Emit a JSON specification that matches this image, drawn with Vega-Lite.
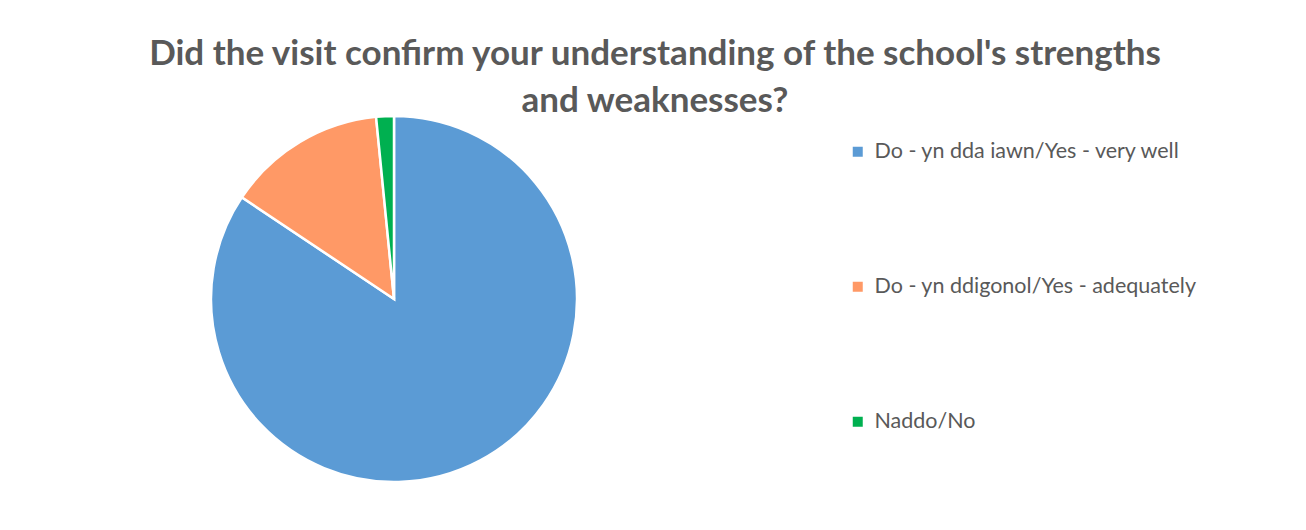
{
  "$schema": "https://vega.github.io/schema/vega-lite/v6.json",
  "autosize": "none",
  "width": 366,
  "height": 366,
  "padding": {"left": 211, "top": 116, "right": 729, "bottom": 48},
  "background": "white",
  "config": {"view": {"stroke": null}},
  "title": {
    "text": ["Did the visit confirm your understanding of the school's strengths", "and weaknesses?"],
    "font": "Lato",
    "fontSize": 35,
    "fontWeight": "bold",
    "color": "#595959",
    "anchor": "middle",
    "frame": "group",
    "dx": 261,
    "offset": -8,
    "lineHeight": 47
  },
  "data": {
    "values": [
      {"response": "Do - yn dda iawn/Yes - very well", "count": 54, "idx": 1},
      {"response": "Do - yn ddigonol/Yes - adequately", "count": 9, "idx": 2},
      {"response": "Naddo/No", "count": 1, "idx": 3}
    ]
  },
  "mark": {"type": "arc", "stroke": "white", "strokeWidth": 2.5},
  "encoding": {
    "theta": {"field": "count", "type": "quantitative", "stack": true},
    "order": {"field": "idx", "type": "quantitative"},
    "color": {
      "field": "response",
      "type": "nominal",
      "sort": null,
      "scale": {
        "domain": ["Do - yn dda iawn/Yes - very well", "Do - yn ddigonol/Yes - adequately", "Naddo/No"],
        "range": ["#5B9BD5", "#FF9966", "#00B050"]
      },
      "legend": {
        "title": null,
        "orient": "none",
        "legendX": 636,
        "legendY": 25,
        "symbolType": "square",
        "symbolSize": 100,
        "symbolStrokeWidth": 0,
        "labelFont": "Lato",
        "labelFontSize": 21.5,
        "labelColor": "#595959",
        "labelOffset": 6,
        "rowPadding": 112,
        "labelLimit": 500
      }
    }
  }
}
